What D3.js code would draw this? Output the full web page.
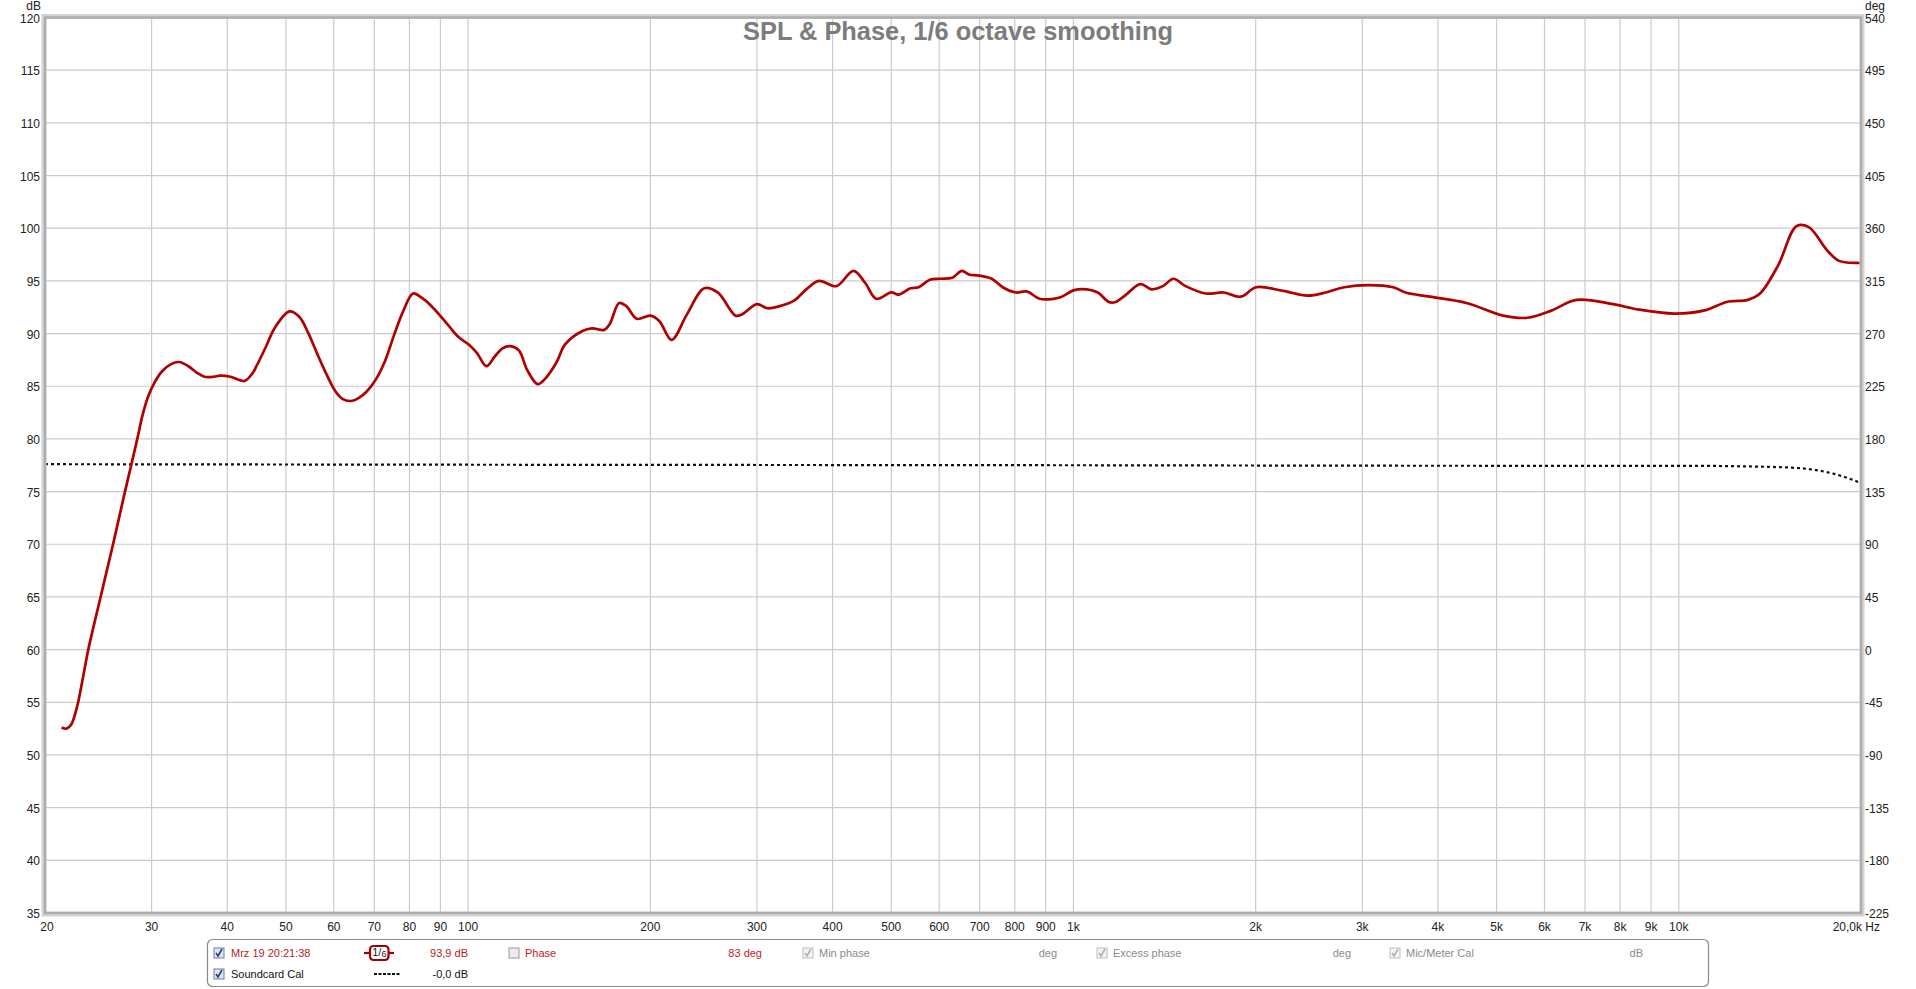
<!DOCTYPE html>
<html><head><meta charset="utf-8">
<script src="https://cdn.jsdelivr.net/npm/d3@7"></script>
<style>html,body{margin:0;padding:0;background:#fff;}svg{display:block;font-family:"Liberation Sans",Arial,sans-serif;}</style>
</head><body>
<svg id="c" width="1916" height="989"></svg>
<script>
// ---- data ----
const splFreq = [21.3,21.7,22.1,22.6,23.1,23.58,24.71,25.91,27.11,27.76,28.41,29.0,29.6,30.3,31.2,32.3,33.3,34.5,35.6,36.7,38.0,38.9,40.5,42.7,44.0,44.7,46.3,48.0,50.7,52.6,54.5,56.4,58.5,60.4,62.0,64.0,66.0,68.0,70.5,72.9,75.5,78.1,81.1,83.8,87.0,89.9,93.0,96.3,100,103.3,107.2,110.6,114,117.5,121.3,125.3,130.3,134,139.9,144.7,154.5,160.2,167.9,171.4,177.6,182.5,190,200,206.9,216.9,229.3,245.6,258.4,276.5,283.1,300,312,327,345,362,380,406,433,453,472,500,514,538,555,579,603,631,654,672,699,733,764,804,837,879,927,957,1000,1052,1097,1144,1174,1216,1290,1346,1405,1463,1532,1655,1772,1890,2004,2220,2436,2612,2801,3074,3374,3536,3879,4460,5127,5625,6172,6774,7790,8548,9830,11040,12000,13000,13620,14600,15650,16400,17580,18400,19720,20000];
const splDb   = [52.6,52.5,52.9,54.6,57.3,60.0,65.0,70.0,75.0,77.5,80.0,82.3,84.0,85.3,86.4,87.1,87.3,86.9,86.3,85.9,85.9,86.0,85.9,85.5,86.2,86.9,88.7,90.6,92.1,91.6,90.0,88.0,86.0,84.5,83.8,83.6,83.9,84.5,85.7,87.4,89.9,92.1,93.8,93.4,92.6,91.7,90.7,89.7,89.0,88.2,86.9,87.8,88.6,88.8,88.4,86.5,85.2,85.7,87.25,89.0,90.25,90.5,90.35,90.9,92.9,92.6,91.4,91.7,91.2,89.4,91.7,94.3,93.9,91.7,91.8,92.8,92.4,92.6,93.1,94.2,95.0,94.5,95.95,94.8,93.3,93.9,93.7,94.3,94.4,95.1,95.2,95.3,95.95,95.6,95.5,95.2,94.4,93.9,94.0,93.3,93.3,93.5,94.1,94.2,93.9,93.0,93.0,93.6,94.7,94.2,94.5,95.2,94.5,93.8,93.9,93.5,94.4,94.05,93.6,93.9,94.4,94.6,94.4,93.9,93.5,92.9,91.7,91.5,92.2,93.2,92.8,92.3,91.9,92.2,93.0,93.2,93.8,96.5,100.2,100.1,97.9,96.9,96.7,96.7];
const calFreq = [20,100,1000,5000,10000,14000,16000,18000,19000,20000];
const calDb   = [77.6,77.55,77.5,77.45,77.45,77.35,77.2,76.7,76.3,75.8];
const xTicks = [20,30,40,50,60,70,80,90,100,200,300,400,500,600,700,800,900,1000,2000,3000,4000,5000,6000,7000,8000,9000,10000,20000];
const xTickLabels = ["20","30","40","50","60","70","80","90","100","200","300","400","500","600","700","800","900","1k","2k","3k","4k","5k","6k","7k","8k","9k","10k","20,0k Hz"];
const yTicks = d3.range(35,121,5);
const yRightTicks = d3.range(-225,541,45);
const title = "SPL & Phase, 1/6 octave smoothing";

// ---- layout ----
const L=45,R=1861,T=17.5,B=913;
const svg=d3.select("#c");
const x=d3.scaleLog().domain([20,20000]).range([L,R]);
const y=d3.scaleLinear().domain([35,120]).range([B,T]);
const yR=d3.scaleLinear().domain([-225,540]).range([B,T]);

// grid
svg.append("g").selectAll("line").data(yTicks).join("line")
  .attr("x1",L).attr("x2",R).attr("y1",d=>y(d)).attr("y2",d=>y(d))
  .attr("stroke","#cbcbcb").attr("stroke-width",1.2);
svg.append("g").selectAll("line").data(xTicks).join("line")
  .attr("x1",d=>x(d)).attr("x2",d=>x(d)).attr("y1",T).attr("y2",B)
  .attr("stroke","#cbcbcb").attr("stroke-width",1.2);

// title (drawn over grid)
svg.append("text").attr("x",958).attr("y",40).attr("text-anchor","middle")
  .attr("font-size",25.4).attr("font-weight","bold").attr("fill","#7c7c7c").text(title);

// clip
svg.append("clipPath").attr("id","clip").append("rect").attr("x",L).attr("y",T).attr("width",R-L).attr("height",B-T);

// soundcard cal dotted
const calData=calFreq.map((f,i)=>[f,calDb[i]]);
svg.append("path").attr("clip-path","url(#clip)")
  .attr("d",d3.line().x(d=>x(d[0])).y(d=>y(d[1])).curve(d3.curveMonotoneX)(calData))
  .attr("fill","none").attr("stroke","#111").attr("stroke-width",2.2).attr("stroke-dasharray","3,3");

// SPL
const splData=splFreq.map((f,i)=>[f,splDb[i]]);
svg.append("path").attr("clip-path","url(#clip)")
  .attr("d",d3.line().x(d=>x(d[0])).y(d=>y(d[1])).curve(d3.curveCatmullRom.alpha(0.5))(splData))
  .attr("fill","none").attr("stroke","#b00000").attr("stroke-width",2.7).attr("stroke-linejoin","round");

// frame
svg.append("rect").attr("x",L-1).attr("y",T-1).attr("width",R-L+2).attr("height",B-T+2)
  .attr("fill","none").attr("stroke","#d2d2d2").attr("stroke-width",5);
svg.append("rect").attr("x",L).attr("y",T).attr("width",R-L).attr("height",B-T)
  .attr("fill","none").attr("stroke","#adadad").attr("stroke-width",2.4);

// axis labels
const lab=svg.append("g").attr("font-size",12).attr("fill","#222");
lab.selectAll(".yl").data(yTicks).join("text").attr("class","yl")
  .attr("x",40).attr("y",d=>y(d)+1).attr("text-anchor","end").attr("dominant-baseline","central").text(d=>d);
lab.append("text").attr("x",41).attr("y",6).attr("text-anchor","end").attr("dominant-baseline","central").text("dB");
lab.selectAll(".yr").data(yRightTicks).join("text").attr("class","yr")
  .attr("x",1865).attr("y",d=>yR(d)+1).attr("dominant-baseline","central").text(d=>d);
lab.append("text").attr("x",1865).attr("y",6).attr("dominant-baseline","central").text("deg");
lab.selectAll(".xl").data(xTicks).join("text").attr("class","xl")
  .attr("x",(d,i)=> i===xTicks.length-1 ? 1880 : x(d)+(i===0?2:0))
  .attr("y",927).attr("text-anchor",(d,i)=> i===xTicks.length-1 ? "end":"middle")
  .attr("dominant-baseline","central").text((d,i)=>xTickLabels[i]);

// legend
const lg=svg.append("g").attr("font-size",11);
lg.append("rect").attr("x",207.5).attr("y",939.5).attr("width",1501).attr("height",47).attr("rx",5)
  .attr("fill","#fff").attr("stroke","#8a8a8a").attr("stroke-width",1.2);
function checkbox(cx,cy,enabled){
  const g=lg.append("g");
  g.append("rect").attr("x",cx-5).attr("y",cy-5).attr("width",10).attr("height",10)
    .attr("fill",enabled?"#dfe6f0":"#f4f4f4").attr("stroke",enabled?"#6f7f99":"#bdbdbd").attr("stroke-width",1);
  g.append("path").attr("d",`M${cx-3},${cy} L${cx-1},${cy+3} L${cx+3},${cy-4}`)
    .attr("fill","none").attr("stroke",enabled?"#1f3f8f":"#b0b0b0").attr("stroke-width",1.6);
}
function emptybox(cx,cy){
  lg.append("rect").attr("x",cx-5).attr("y",cy-5).attr("width",10).attr("height",10)
    .attr("fill","#ececec").attr("stroke","#9a9a9a").attr("stroke-width",1);
}
const r1=953, r2=974;
checkbox(219,r1,true);
lg.append("text").attr("x",231).attr("y",r1).attr("dominant-baseline","central").attr("fill","#b51c1c").text("Mrz 19 20:21:38");
// 1/6 badge
lg.append("line").attr("x1",364).attr("x2",394).attr("y1",r1).attr("y2",r1).attr("stroke","#a00000").attr("stroke-width",2.2);
lg.append("rect").attr("x",370).attr("y",946).attr("width",18.5).attr("height",14).attr("rx",3.5)
  .attr("fill","#fff").attr("stroke","#a00000").attr("stroke-width",2.2);
const bt=lg.append("text").attr("x",379.3).attr("y",957).attr("text-anchor","middle").attr("font-size",11).attr("fill","#222");
bt.append("tspan").attr("dy",-1.5).text("1");
bt.append("tspan").attr("dy",0).text("/");
bt.append("tspan").attr("dy",1.5).attr("font-size",9).text("6");
lg.append("text").attr("x",468).attr("y",r1).attr("text-anchor","end").attr("dominant-baseline","central").attr("fill","#b51c1c").text("93,9 dB");
emptybox(514,r1);
lg.append("text").attr("x",525).attr("y",r1).attr("dominant-baseline","central").attr("fill","#c82020").text("Phase");
lg.append("text").attr("x",762).attr("y",r1).attr("text-anchor","end").attr("dominant-baseline","central").attr("fill","#c82020").text("83 deg");
checkbox(808,r1,false);
lg.append("text").attr("x",819).attr("y",r1).attr("dominant-baseline","central").attr("fill","#8a8a8a").text("Min phase");
lg.append("text").attr("x",1057).attr("y",r1).attr("text-anchor","end").attr("dominant-baseline","central").attr("fill","#8a8a8a").text("deg");
checkbox(1102,r1,false);
lg.append("text").attr("x",1113).attr("y",r1).attr("dominant-baseline","central").attr("fill","#8a8a8a").text("Excess phase");
lg.append("text").attr("x",1351).attr("y",r1).attr("text-anchor","end").attr("dominant-baseline","central").attr("fill","#8a8a8a").text("deg");
checkbox(1395,r1,false);
lg.append("text").attr("x",1406).attr("y",r1).attr("dominant-baseline","central").attr("fill","#8a8a8a").text("Mic/Meter Cal");
lg.append("text").attr("x",1643).attr("y",r1).attr("text-anchor","end").attr("dominant-baseline","central").attr("fill","#8a8a8a").text("dB");
checkbox(219,r2,true);
lg.append("text").attr("x",231).attr("y",r2).attr("dominant-baseline","central").attr("fill","#111").text("Soundcard Cal");
lg.append("line").attr("x1",374).attr("x2",400).attr("y1",r2).attr("y2",r2).attr("stroke","#111").attr("stroke-width",2).attr("stroke-dasharray","3,1.5");
lg.append("text").attr("x",468).attr("y",r2).attr("text-anchor","end").attr("dominant-baseline","central").attr("fill","#111").text("-0,0 dB");
</script>
</body></html>
